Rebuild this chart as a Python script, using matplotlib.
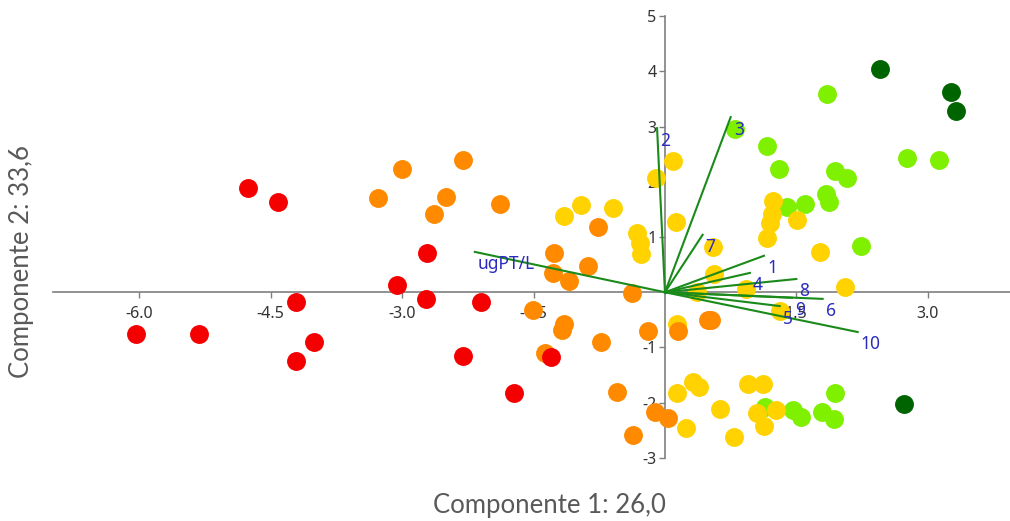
import matplotlib.pyplot as plt

# Puntos (componente 1, componente 2) por grupo de color
red_x = [-6.04, -5.32, -4.76, -4.42, -4.21, -4.01, -4.21, -3.06, -2.72, -2.73, -2.10, -2.31, -1.72, -1.30]
red_y = [-0.76, -0.76, 1.89, 1.63, -0.18, -0.90, -1.25, 0.13, 0.71, -0.12, -0.18, -1.15, -1.83, -1.17]

orange_x = [-3.28, -3.00, -2.50, -2.64, -2.31, -1.88, -1.27, -1.28, -1.10, -0.88, -0.76, -1.51, -1.15,
            -1.18, -0.73, -0.38, -1.37, -0.19, 0.15, 0.49, 0.53, -0.55, -0.37, -0.11, 0.03]
orange_y = [1.71, 2.23, 1.73, 1.42, 2.40, 1.60, 0.71, 0.35, 0.20, 0.48, 1.18, -0.32, -0.57,
            -0.68, -0.90, -0.01, -1.10, -0.70, -0.70, -0.50, -0.50, -1.81, -2.58, -2.17, -2.28]

yellow_x = [0.09, -0.10, 0.13, -0.32, -0.29, -0.27, 0.55, 0.56, 0.92, 0.37, 1.31, 2.05, 0.14,
            -1.15, -0.96, -0.59, 1.23, 1.22, 1.20, 1.16, 1.51, 1.77,
            0.14, 0.32, 0.39, 0.63, 0.24, 0.79, 0.95, 1.12, 1.05, 1.13, 1.27]
yellow_y = [2.38, 2.07, 1.27, 1.07, 0.89, 0.70, 0.81, 0.33, 0.06, 0.00, -0.34, 0.10, -0.57,
            1.38, 1.58, 1.53, 1.65, 1.42, 1.25, 0.98, 1.31, 0.73,
            -1.82, -1.62, -1.71, -2.11, -2.46, -2.62, -1.66, -1.66, -2.18, -2.42, -2.14]

lime_x = [0.80, 1.16, 1.30, 1.85, 1.94, 2.08, 2.76, 3.13, 1.39, 1.60, 1.84, 1.87, 2.24,
          1.14, 1.46, 1.55, 1.79, 1.93, 1.94]
lime_y = [2.95, 2.65, 2.23, 3.59, 2.19, 2.06, 2.43, 2.39, 1.54, 1.60, 1.77, 1.64, 0.84,
          -2.08, -2.14, -2.25, -2.16, -2.29, -1.82]

dkgreen_x = [2.45, 3.26, 3.32, 2.73]
dkgreen_y = [4.04, 3.63, 3.28, -2.02]

# Vectores de las variables
var_names = ['ugPT/L', '2', '3', '7', '1', '4', '8', '9', '6', '5', '10']
var_x = [-2.17, -0.09, 0.75, 0.43, 1.13, 0.97, 1.50, 1.45, 1.80, 1.31, 2.20]
var_y = [0.73, 2.97, 3.17, 1.04, 0.66, 0.35, 0.24, -0.10, -0.12, -0.25, -0.72]

xticks = [-6.0, -4.5, -3.0, -1.5, 1.5, 3.0]
yticks = [5, 4, 3, 2, 1, -1, -2, -3]

fig = plt.figure(figsize=(10.1, 5.21), dpi=100)
ax = fig.add_axes([53 / 1010, 56 / 521, 957 / 1010, 455 / 521])

s = 185
ax.scatter(dkgreen_x, dkgreen_y, s=s, color='#006400', linewidths=0, zorder=2)
ax.scatter(lime_x, lime_y, s=s, color='#7ef000', linewidths=0, zorder=2)
ax.scatter(yellow_x, yellow_y, s=s, color='#ffd200', linewidths=0, zorder=2)
ax.scatter(orange_x, orange_y, s=s, color='#ff8a00', linewidths=0, zorder=2)
ax.scatter(red_x, red_y, s=s, color='#f50000', linewidths=0, zorder=2)

for name, vx, vy in zip(var_names, var_x, var_y):
    ax.plot([0, vx], [0, vy], color='#1a8a1a', lw=1.5, zorder=3)
    ax.annotate(name, (vx, vy), xytext=(2.2, -2.5), textcoords='offset points',
                ha='left', va='top', fontsize=12.5, color='#2b2bc0',
                family='Noto Sans', zorder=4)

ax.set_xlim(-6.986, 3.939)
ax.set_ylim(-3.127, 5.109)

for side in ['top', 'right']:
    ax.spines[side].set_visible(False)
ax.spines['left'].set_position(('data', 0))
ax.spines['bottom'].set_position(('data', 0))
ax.spines['left'].set_bounds(-3, 5)
for side in ['left', 'bottom']:
    ax.spines[side].set_color('#7f7f7f')
    ax.spines[side].set_linewidth(1.2)
    ax.spines[side].set_zorder(1)

ax.set_xticks(xticks)
ax.set_xticklabels([f'{t:.1f}' for t in xticks])
ax.set_yticks(yticks)
ax.set_yticklabels([str(t) for t in yticks])
ax.tick_params(axis='both', direction='out', length=4, width=1, color='#7f7f7f',
               labelsize=11.5, labelcolor='#333333')
ax.tick_params(axis='x', pad=6)
ax.tick_params(axis='y', pad=2)
for lab in ax.get_xticklabels() + ax.get_yticklabels():
    lab.set_family('Noto Sans')

fig.text(549 / 1010, 1 - 505 / 521, 'Componente 1: 26,0', ha='center', va='center',
         fontsize=18.5, color='#595959', family='Lato')
fig.text(22 / 1010, 1 - 262 / 521, 'Componente 2: 33,6', ha='center', va='center',
         rotation=90, fontsize=18.5, color='#595959', family='Lato')

fig.savefig('out.png', dpi=100)
